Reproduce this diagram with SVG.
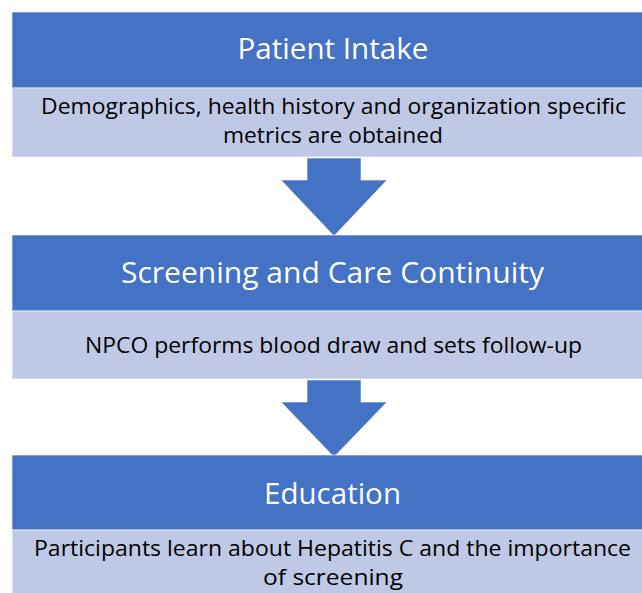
<svg xmlns="http://www.w3.org/2000/svg" width="642" height="593" viewBox="0 0 642 593">
  <style>
    .hdr { fill: #4472C4; stroke: #FFFFFF; stroke-width: 0.6; }
    .desc { fill: #BFC9E5; stroke: #FFFFFF; stroke-width: 0.6; }
    .htxt { font-family: "Open Sans", "Liberation Sans", sans-serif; font-size: 30px; fill: #FFFFFF; text-anchor: middle; }
    .dtxt { font-family: "Open Sans", "Liberation Sans", sans-serif; font-size: 21px; fill: #000000; text-anchor: middle; }
    .arrow { fill: #4472C4; stroke: #FFFFFF; stroke-width: 0.6; }
  </style>
  <rect x="0" y="0" width="642" height="593" fill="#FFFFFF"/>

  <g id="connectors">
    <polygon class="arrow" points="307,158 361,158 361,180 387,180 334,236 281,180 307,180"/>
    <polygon class="arrow" points="307,380 361,380 361,402 387,402 334,457 281,402 307,402"/>
  </g>

  <g id="node-patient-intake">
    <rect class="hdr" x="12" y="12" width="660" height="76"/>
    <text class="htxt" x="333" y="59" textLength="191" lengthAdjust="spacingAndGlyphs">Patient Intake</text>
    <rect class="desc" x="12" y="88" width="660" height="69"/>
    <text class="dtxt" x="333.5" y="114" textLength="585" lengthAdjust="spacingAndGlyphs">Demographics, health history and organization specific</text>
    <text class="dtxt" x="333" y="143" textLength="220" lengthAdjust="spacingAndGlyphs">metrics are obtained</text>
  </g>

  <g id="node-screening">
    <rect class="hdr" x="12" y="235" width="660" height="76"/>
    <text class="htxt" x="332.5" y="283" textLength="423" lengthAdjust="spacingAndGlyphs">Screening and Care Continuity</text>
    <rect class="desc" x="12" y="311" width="660" height="68"/>
    <text class="dtxt" x="333.5" y="353" textLength="497" lengthAdjust="spacingAndGlyphs">NPCO performs blood draw and sets follow-up</text>
  </g>

  <g id="node-education">
    <rect class="hdr" x="12" y="455" width="660" height="75"/>
    <text class="htxt" x="332.5" y="504" textLength="137" lengthAdjust="spacingAndGlyphs">Education</text>
    <rect class="desc" x="12" y="530" width="660" height="70"/>
    <text class="dtxt" x="332.5" y="556" textLength="597" lengthAdjust="spacingAndGlyphs">Participants learn about Hepatitis C and the importance</text>
    <text class="dtxt" x="333" y="585" textLength="140" lengthAdjust="spacingAndGlyphs">of screening</text>
  </g>
</svg>
